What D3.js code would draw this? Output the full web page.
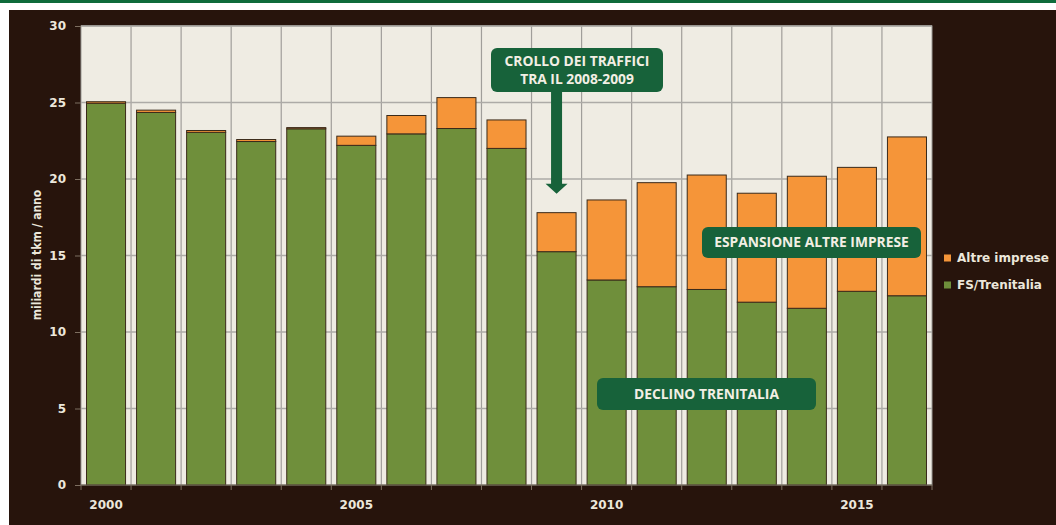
<!DOCTYPE html>
<html>
<head>
<meta charset="utf-8">
<script src="https://cdn.jsdelivr.net/npm/d3@7"></script>
<style>
html,body{margin:0;padding:0;background:#ffffff;}
svg{display:block;}
</style>
</head>
<body>
<svg id="chart" width="1056" height="525"></svg>
<script>
const years = ["2000","2001","2002","2003","2004","2005","2006","2007","2008","2009","2010","2011","2012","2013","2014","2015","2016"];
const fsTrenitalia = [24.95,24.35,23.05,22.45,23.28,22.2,22.95,23.3,22.0,15.25,13.4,12.96,12.78,11.95,11.55,12.66,12.37];
const altreImprese = [0.1,0.15,0.12,0.13,0.08,0.6,1.2,2.02,1.86,2.55,5.23,6.8,7.48,7.12,8.63,8.1,10.38];
const yTicks = [0,5,10,15,20,25,30];
const xLabels = ["2000","2005","2010","2015"];
const seriesNames = ["FS/Trenitalia","Altre imprese"];
const colors = {"FS/Trenitalia":"#6f8f3b","Altre imprese":"#f59539"};

const svg = d3.select("#chart");
const W = 1056, H = 525;
const M = {left:81, right:932, top:26, bottom:485};

// frame
svg.append("rect").attr("x",0).attr("y",0).attr("width",W).attr("height",3).attr("fill","#0e6b3b");
svg.append("rect").attr("x",9).attr("y",10).attr("width",W-9).attr("height",H-10).attr("fill","#27140c");

const x = d3.scaleBand().domain(years).range([M.left, M.right]).paddingInner(0.22).paddingOuter(0.11);
const y = d3.scaleLinear().domain([0,30]).range([M.bottom, M.top]);
const step = x.step();

// plot bg
svg.append("rect").attr("x",M.left).attr("y",M.top).attr("width",M.right-M.left).attr("height",M.bottom-M.top)
  .attr("fill","#efece3").attr("stroke","#9c9a96").attr("stroke-width",1);

// grid
const boundaries = d3.range(years.length+1).map(i => M.left + i*step);
svg.append("g").selectAll("line").data(boundaries.slice(1,-1)).join("line")
  .attr("x1",d=>d).attr("x2",d=>d).attr("y1",M.top).attr("y2",M.bottom)
  .attr("stroke","#a09e9a").attr("stroke-width",1.2);
svg.append("g").selectAll("line").data(yTicks.slice(1)).join("line")
  .attr("x1",M.left).attr("x2",M.right).attr("y1",d=>y(d)).attr("y2",d=>y(d))
  .attr("stroke","#adaba7").attr("stroke-width",1.5);

// stacked data
const table = years.map((yr,i)=>({year:yr,"FS/Trenitalia":fsTrenitalia[i],"Altre imprese":altreImprese[i]}));
const stack = d3.stack().keys(seriesNames)(table);
svg.append("g").selectAll("g").data(stack).join("g")
  .attr("fill",d=>colors[d.key])
  .selectAll("rect").data(d=>d).join("rect")
  .attr("x",d=>x(d.data.year)).attr("width",x.bandwidth())
  .attr("y",d=>y(d[1])).attr("height",d=>y(d[0])-y(d[1]))
  .attr("stroke","#3a2a1a").attr("stroke-width",1);

// y axis
const yAxis = d3.axisLeft(y).tickValues(yTicks).tickSize(6).tickPadding(9);
const gy = svg.append("g").attr("transform",`translate(${M.left},0)`).call(yAxis);
gy.select(".domain").remove();
gy.selectAll(".tick line").attr("stroke","#7d6e60");
gy.selectAll(".tick text").attr("fill","#ece7db").attr("font-family","DejaVu Sans").attr("font-weight","bold").attr("font-size",12);

// x axis
svg.append("line").attr("x1",M.left).attr("x2",M.right).attr("y1",M.bottom).attr("y2",M.bottom)
  .attr("stroke","#6b6350").attr("stroke-width",1.2);
svg.append("g").selectAll("line").data(boundaries).join("line")
  .attr("x1",d=>d).attr("x2",d=>d).attr("y1",M.bottom).attr("y2",M.bottom+5)
  .attr("stroke","#7d6e60");
const xAxis = d3.axisBottom(x).tickValues(xLabels).tickSize(0).tickPadding(15);
const gx = svg.append("g").attr("transform",`translate(0,${M.bottom})`).call(xAxis);
gx.select(".domain").remove();
gx.selectAll(".tick text").attr("fill","#ece7db").attr("font-family","DejaVu Sans").attr("font-weight","bold").attr("font-size",12);

// y title
svg.append("text").attr("transform","translate(41,255) rotate(-90)")
  .attr("text-anchor","middle").attr("fill","#ece7db")
  .attr("font-family","DejaVu Sans Condensed, DejaVu Sans").attr("font-stretch","condensed")
  .attr("font-weight","bold").attr("font-size",12)
  .text("miliardi di tkm / anno");

// legend
const legend = svg.append("g");
const legItems = [["Altre imprese",258],["FS/Trenitalia",285]];
legItems.forEach(([name,cy])=>{
  legend.append("rect").attr("x",944).attr("y",cy-3.5).attr("width",7).attr("height",7).attr("fill",colors[name]);
  legend.append("text").attr("x",957).attr("y",cy).attr("dy","0.35em")
    .attr("fill","#ece7db").attr("font-family","DejaVu Sans").attr("font-weight","bold").attr("font-size",12)
    .text(name);
});

// annotations
const boxFill = "#17623a", txtFill = "#f2efe4";
function box(x0,y0,w,h,lines,cy,lh){
  svg.append("rect").attr("x",x0).attr("y",y0).attr("width",w).attr("height",h).attr("rx",6).attr("fill",boxFill);
  lines.forEach((t,i)=>{
    svg.append("text").attr("x",x0+w/2).attr("y",cy+i*lh).attr("dy","0.35em").attr("text-anchor","middle")
      .attr("fill",txtFill).attr("font-family","Open Sans").attr("font-weight","bold").attr("font-size",13.8)
      .text(t);
  });
}
// arrow
const ax = x("2009")+x.bandwidth()/2;
const tip = y(19.03);
svg.append("path").attr("fill",boxFill)
  .attr("d",`M${ax-5.5},80 L${ax+5.5},80 L${ax+5.5},${tip-10} L${ax+11},${tip-10} L${ax},${tip} L${ax-11},${tip-10} L${ax-5.5},${tip-10} Z`);
box(491,48,172,44,["CROLLO DEI TRAFFICI","TRA IL 2008-2009"],61,18.6);
box(702,227,219,31,["ESPANSIONE ALTRE IMPRESE"],242.5,0);
box(597,378,219,32,["DECLINO TRENITALIA"],394,0);
</script>
</body>
</html>
